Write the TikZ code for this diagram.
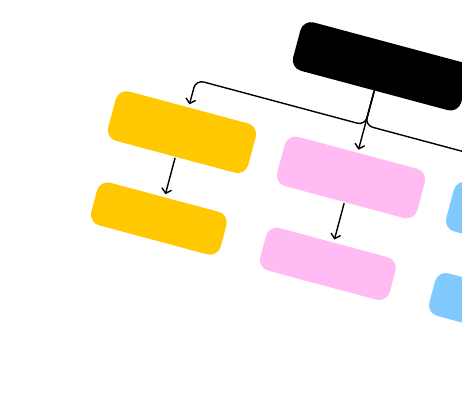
\documentclass[tikz,border=0pt]{standalone}
\usetikzlibrary{arrows.meta}
\definecolor{cyellow}{HTML}{FFC800}
\definecolor{cpink}{HTML}{FFBBF2}
\definecolor{cblue}{HTML}{80CAFF}
\tikzset{
  rootbox/.style={fill=black, rounded corners=11pt, minimum width=174pt, minimum height=50pt, inner sep=0pt},
  topbox/.style={rounded corners=11pt, minimum width=145pt, minimum height=51pt, inner sep=0pt},
  lowbox/.style={rounded corners=11pt, minimum width=134pt, minimum height=44pt, inner sep=0pt},
  conn/.style={draw=black, line width=1.4pt, rounded corners=8pt, -{Straight Barb[length=4.5pt,width=10pt]}, shorten >=3pt},
}
\begin{document}
\begin{tikzpicture}[x=1pt,y=1pt]
\useasboundingbox (0,0) rectangle (462,-405);
\clip (0,0) rectangle (462,-405);
\begin{scope}[rotate=-15, transform shape]
  \node[rootbox] (root) at (385,34.5) {};
  \node[topbox, fill=cyellow] (y1) at (210,-80.5) {};
  \node[topbox, fill=cpink] (p1) at (385,-80.5) {};
  \node[topbox, fill=cblue] (b1) at (560,-80.5) {};
  \node[lowbox, fill=cyellow] (y2) at (210,-170) {};
  \node[lowbox, fill=cpink] (p2) at (385,-170) {};
  \node[lowbox, fill=cblue] (b2) at (560,-170) {};
  \coordinate (bus) at (385,-26.5);
  \coordinate (busL) at (210,-26.5);
  \coordinate (busR) at (560,-26.5);
  \draw[conn] (root.south) -- (bus) -- (busL) -- (y1.north);
  \draw[conn] (root.south) -- (p1.north);
  \draw[conn] (root.south) -- (bus) -- (busR) -- (b1.north);
  \draw[conn, shorten <=1pt] (y1.south) -- (y2.north);
  \draw[conn, shorten <=1pt] (p1.south) -- (p2.north);
  \draw[conn, shorten <=1pt] (b1.south) -- (b2.north);
\end{scope}
\end{tikzpicture}
\end{document}
